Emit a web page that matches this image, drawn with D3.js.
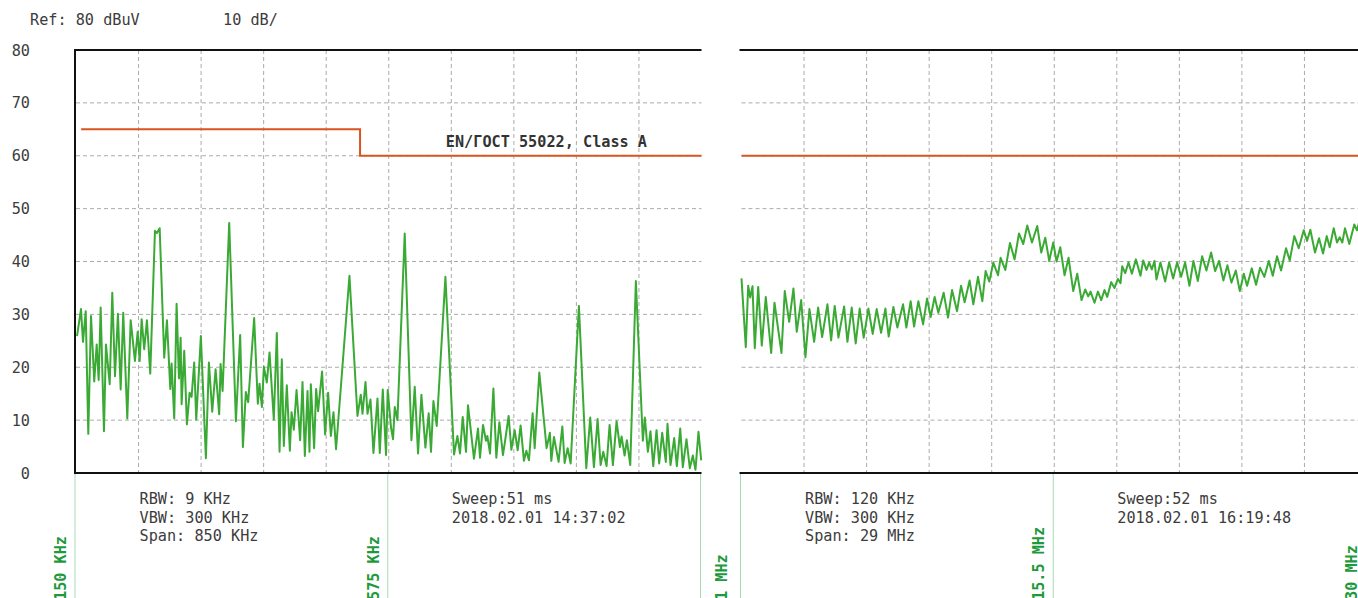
<!DOCTYPE html>
<html>
<head>
<meta charset="utf-8">
<script src="https://cdn.jsdelivr.net/npm/d3@7"></script>
<style>
  html, body { margin: 0; padding: 0; background: #fff; overflow: hidden; }
  svg { display: block; font-family: "DejaVu Sans Mono", monospace; }
</style>
</head>
<body>
<svg id="chart" width="1358" height="598"></svg>
<script>
// ---- Level axis ----
const levelTicks = [0, 10, 20, 30, 40, 50, 60, 70, 80];
const refText = "Ref: 80 dBuV";
const divText = "10 dB/";

// ---- Band 1: 150 kHz .. 1 MHz (frequency in kHz, level in dBuV) ----
const lowFreq = [151.4,156.8,159.5,163.2,166.7,170.4,174.8,178.1,180.8,183.5,
  188.0,190.7,195.8,199.3,203.0,207.0,210.7,214.2,219.7,224.3,
  230.1,233.8,236.5,239.2,242.7,246.4,250.9,257.3,260.0,263.7,
  269.9,273.6,278.1,279.9,283.5,286.7,289.9,292.2,293.5,297.1,
  300.7,304.4,307.1,310.6,313.4,319.7,326.5,330.6,335.1,339.7,
  344.6,346.5,349.2,358.2,367.3,373.1,376.8,380.8,384.0,392.1,
  397.1,399.4,402.6,405.3,409.3,413.0,418.8,422.9,426.6,429.7,
  432.4,436.5,440.6,442.9,446.0,449.7,454.6,457.8,461.0,464.6,
  467.3,469.1,473.6,476.3,479.0,484.4,488.5,492.6,496.3,499.9,
  503.4,521.6,532.5,537.0,539.3,543.4,546.1,550.2,554.2,559.7,
  562.8,566.9,571.3,573.6,578.1,580.8,583.2,586.8,596.7,605.8,
  610.3,614.8,619.4,624.8,629.3,632.4,635.7,640.2,652.0,663.7,
  668.3,671.8,675.5,680.0,682.7,690.8,696.3,699.0,703.1,707.1,
  709.0,712.6,717.2,721.2,725.3,730.2,732.9,737.9,741.6,746.1,
  750.2,754.2,758.7,762.0,765.5,770.5,773.3,779.6,789.5,794.0,
  795.9,799.5,805.8,810.9,814.0,818.1,822.2,833.4,843.4,848.8,
  853.8,858.8,862.9,866.5,871.0,875.1,879.6,884.6,889.1,891.4,
  895.5,898.6,903.2,910.8,920.3,923.0,927.1,930.7,934.4,938.9,
  942.5,946.6,951.5,953.8,957.9,962.9,966.5,971.1,974.6,979.6,
  984.1,988.2,991.8,995.9,999.6];
const lowLevel = [25.9,31.0,24.8,30.6,7.4,29.7,17.3,24.3,17.6,31.3,
  7.9,24.3,16.8,34.1,18.3,30.1,15.8,30.3,10.3,28.9,
  21.2,26.7,21.2,29.1,23.4,28.9,18.8,45.8,45.4,46.3,
  21.8,28.9,15.9,20.7,10.3,32.0,17.9,25.6,13.0,23.1,
  9.2,15.2,14.4,20.9,10.1,25.9,2.8,20.9,11.6,19.6,
  11.1,20.6,15.5,47.3,9.8,26.1,4.9,15.3,13.4,29.3,
  13.1,16.9,12.5,20.1,17.1,22.8,10.1,26.5,4.0,21.5,
  5.1,16.6,4.2,11.5,8.2,15.7,6.2,17.2,3.2,15.5,
  4.0,16.8,4.7,15.9,11.7,19.2,7.3,15.2,7.0,11.5,
  4.5,37.3,10.8,14.8,11.2,17.2,11.2,13.9,3.8,14.1,
  3.8,15.8,3.4,15.7,8.6,6.4,12.5,10.0,45.3,6.2,
  16.3,3.7,14.8,4.8,11.3,4.0,13.6,8.9,37.1,3.5,
  7.0,3.7,10.6,4.0,12.8,2.7,8.4,2.9,9.1,6.1,
  7.0,3.7,16.0,2.9,9.6,3.4,5.9,10.8,4.4,8.1,
  4.3,9.0,2.3,4.2,2.4,11.3,4.7,19.0,4.7,7.6,
  2.3,6.8,2.1,8.8,1.9,4.7,1.8,31.6,0.9,10.5,
  1.1,10.2,1.5,4.0,1.3,9.1,1.5,9.8,4.9,6.9,
  3.3,6.2,1.5,36.3,6.1,10.5,4.0,7.9,1.3,8.1,
  1.8,7.6,2.1,9.3,1.5,6.6,1.3,8.4,1.1,6.4,
  0.9,3.3,0.6,7.8,2.4];
const lowLimitFreq = [157, 536, 536, 1000];
const lowLimitLevel = [65, 65, 60, 60];
const lowInfo = ["RBW: 9 KHz", "VBW: 300 KHz", "Span: 850 KHz"];
const lowSweep = ["Sweep:51 ms", "2018.02.01 14:37:02"];

// ---- Band 2: 1 MHz .. 30 MHz (frequency in MHz, level in dBuV) ----
const highFreq = [1.000,1.199,1.310,1.403,1.510,1.616,1.774,1.940,2.126,2.376,
  2.529,2.853,3.006,3.210,3.409,3.562,3.766,3.965,4.150,4.368,
  4.553,4.739,4.984,5.155,5.322,5.494,5.758,5.911,6.110,6.295,
  6.480,6.666,6.883,7.083,7.268,7.472,7.671,7.824,8.042,8.227,
  8.491,8.644,8.843,9.001,9.200,9.418,9.603,9.770,9.955,10.126,
  10.372,10.576,10.761,10.993,11.178,11.345,11.576,11.748,11.965,12.165,
  12.318,12.489,12.674,12.892,13.012,13.230,13.448,13.661,13.865,14.064,
  14.249,14.467,14.712,14.898,15.083,15.268,15.454,15.607,15.778,15.978,
  16.163,16.381,16.566,16.765,16.936,17.075,17.182,17.367,17.525,17.677,
  17.830,17.955,18.141,18.294,18.451,18.572,18.650,18.789,18.942,19.100,
  19.285,19.498,19.623,19.776,19.901,20.026,20.146,20.239,20.424,20.642,
  20.827,21.012,21.197,21.383,21.568,21.767,21.953,22.157,22.356,22.555,
  22.773,22.958,23.143,23.343,23.528,23.713,23.917,24.102,24.288,24.440,
  24.658,24.857,25.043,25.242,25.446,25.631,25.830,26.015,26.247,26.418,
  26.631,26.835,27.067,27.220,27.373,27.590,27.776,27.961,28.132,28.271,
  28.457,28.609,28.734,28.855,28.980,29.179,29.410,29.535,29.628];
const highLevel = [36.8,23.8,35.4,33.2,35.3,23.6,35.2,24.1,33.3,22.7,
  32.2,22.7,34.4,28.6,34.9,26.7,32.7,21.9,31.0,24.8,
  31.3,25.7,31.9,25.1,31.6,25.6,31.5,24.8,31.3,24.5,
  31.1,25.6,31.1,26.3,31.0,26.5,31.1,25.8,31.4,27.5,
  31.9,27.5,32.5,27.7,32.5,28.1,33.0,29.5,33.3,30.3,
  34.1,29.4,34.6,30.6,35.4,32.3,36.4,31.9,37.1,32.5,
  38.2,36.2,39.8,37.4,40.7,38.4,43.5,40.4,45.3,43.3,
  46.8,43.6,46.7,41.7,44.5,40.1,43.6,40.0,42.7,37.4,
  40.7,34.4,37.7,32.7,34.7,33.4,34.3,32.2,34.3,32.7,
  34.6,33.3,36.1,35.0,36.7,35.9,39.1,37.8,39.8,37.7,
  40.4,37.3,40.2,38.4,39.8,38.5,40.1,36.6,39.8,36.2,
  39.8,36.8,39.8,37.1,39.8,35.4,40.1,36.3,41.0,38.3,
  41.7,38.2,40.1,36.4,39.3,36.0,38.3,34.4,37.7,35.4,
  38.7,35.6,38.8,37.1,40.1,37.3,41.0,38.3,42.5,40.2,
  44.8,42.5,45.9,43.9,46.0,41.7,44.4,41.5,44.8,42.7,
  46.3,43.6,44.6,43.6,46.3,43.3,47.0,45.9,47.3];
const highLimitFreq = [1, 30];
const highLimitLevel = [60, 60];
const highInfo = ["RBW: 120 KHz", "VBW: 300 KHz", "Span: 29 MHz"];
const highSweep = ["Sweep:52 ms", "2018.02.01 16:19:48"];

const limitName = "EN/ГОСТ 55022, Class A";

// ---- Colours ----
const traceColor = "#3aaa35";
const limitColor = "#d9541e";
const markerLineColor = "#a6dbb3";
const markerTextColor = "#1e9a3c";
const textColor = "#3c3c3c";
const gridColor = "#ababab";
const fontSize = 15.2;

const svg = d3.select("#chart");
const y = d3.scaleLinear().domain([0, 80]).range([473, 50]);

// header
svg.append("text").attr("x", 30).attr("y", 25).attr("font-size", fontSize)
  .attr("fill", textColor).text(refText);
svg.append("text").attr("x", 223).attr("y", 25).attr("font-size", fontSize)
  .attr("fill", textColor).text(divText);

// level tick labels
svg.append("g").selectAll("text").data(levelTicks).join("text")
  .attr("x", 30).attr("y", d => y(d) + 5.5)
  .attr("text-anchor", "end").attr("font-size", fontSize).attr("fill", textColor)
  .text(d => d);

function drawBand(cfg) {
  const x = d3.scaleLinear().domain(cfg.domain).range(cfg.range);
  const [x0, x1] = cfg.range;
  const g = svg.append("g");
  const gridX = d3.range(1, 10).map(i => cfg.domain[0] + i * (cfg.domain[1] - cfg.domain[0]) / 10);

  // dashed grid
  g.append("g").selectAll("line").data(levelTicks.slice(1, -1)).join("line")
    .attr("x1", x0).attr("x2", x1).attr("y1", d => y(d)).attr("y2", d => y(d))
    .attr("stroke", gridColor).attr("stroke-dasharray", "4,3");
  g.append("g").selectAll("line").data(gridX).join("line")
    .attr("x1", d => x(d)).attr("x2", d => x(d)).attr("y1", y(80)).attr("y2", y(0))
    .attr("stroke", gridColor).attr("stroke-dasharray", "4,3");

  // marker lines below the plot
  g.append("g").selectAll("line").data(cfg.markers).join("line")
    .attr("x1", d => x(d) - 1).attr("x2", d => x(d) - 1)
    .attr("y1", y(0)).attr("y2", 598)
    .attr("stroke", markerLineColor).attr("stroke-width", 1);

  // frame
  g.append("line").attr("x1", x0 - 2).attr("x2", x1).attr("y1", y(80)).attr("y2", y(80))
    .attr("stroke", "#111").attr("stroke-width", 2);
  g.append("line").attr("x1", x0 - 2).attr("x2", x1).attr("y1", y(0)).attr("y2", y(0))
    .attr("stroke", "#111").attr("stroke-width", 2);
  if (cfg.leftAxis) {
    g.append("line").attr("x1", x0 - 1).attr("x2", x0 - 1).attr("y1", y(80) - 1).attr("y2", y(0) + 1)
      .attr("stroke", "#111").attr("stroke-width", 2);
  }

  // limit line
  const limitPts = cfg.limitFreq.map((f, i) => [f, cfg.limitLevel[i]]);
  g.append("path").datum(limitPts)
    .attr("d", d3.line().x(d => x(d[0])).y(d => y(d[1])))
    .attr("fill", "none").attr("stroke", limitColor).attr("stroke-width", 2);

  // measured trace
  const tracePts = cfg.freq.map((f, i) => [f, cfg.level[i]]);
  g.append("path").datum(tracePts)
    .attr("d", d3.line().x(d => x(d[0])).y(d => y(d[1])))
    .attr("fill", "none").attr("stroke", traceColor).attr("stroke-width", 2)
    .attr("stroke-linejoin", "round");

  // settings text
  const infoX = x(gridX[0]) + 1;
  const sweepX = x(gridX[5]) + 0.5;
  g.append("g").selectAll("text").data(cfg.info).join("text")
    .attr("x", infoX).attr("y", (d, i) => 504 + i * 18.5)
    .attr("font-size", fontSize).attr("fill", textColor).text(d => d);
  g.append("g").selectAll("text").data(cfg.sweep).join("text")
    .attr("x", sweepX).attr("y", (d, i) => 504 + i * 18.5)
    .attr("font-size", fontSize).attr("fill", textColor).text(d => d);

  // rotated frequency labels
  cfg.markerLabels.forEach(m => {
    const bx = x(m.f) - 10;
    g.append("text")
      .attr("transform", `translate(${bx},600) rotate(-90)`)
      .attr("font-size", fontSize).attr("font-weight", "bold")
      .attr("fill", markerTextColor).text(m.text);
  });
  return x;
}

const xLow = drawBand({
  domain: [150, 1000], range: [76, 701.5], leftAxis: true,
  freq: lowFreq, level: lowLevel,
  limitFreq: lowLimitFreq, limitLevel: lowLimitLevel,
  info: lowInfo, sweep: lowSweep,
  markers: [150, 575, 1000],
  markerLabels: [{ f: 150, text: "150 KHz" }, { f: 575, text: "575 KHz" }]
});

const xHigh = drawBand({
  domain: [1, 30], range: [741.5, 1367], leftAxis: false,
  freq: highFreq, level: highLevel,
  limitFreq: highLimitFreq, limitLevel: highLimitLevel,
  info: highInfo, sweep: highSweep,
  markers: [1, 15.5, 30],
  markerLabels: [{ f: 15.5, text: "15.5 MHz" }, { f: 30, text: "30 MHz" }]
});

// shared boundary label between the two bands
const boundaryX = (xLow(1000) + xHigh(1)) / 2 + 5.5;
svg.append("text")
  .attr("transform", `translate(${boundaryX},600) rotate(-90)`)
  .attr("font-size", fontSize).attr("font-weight", "bold")
  .attr("fill", markerTextColor).text("1 MHz");

// limit name
svg.append("text").attr("x", 647).attr("y", 147).attr("text-anchor", "end")
  .attr("font-size", fontSize).attr("font-weight", "bold").attr("fill", "#333")
  .text(limitName);
</script>
</body>
</html>
